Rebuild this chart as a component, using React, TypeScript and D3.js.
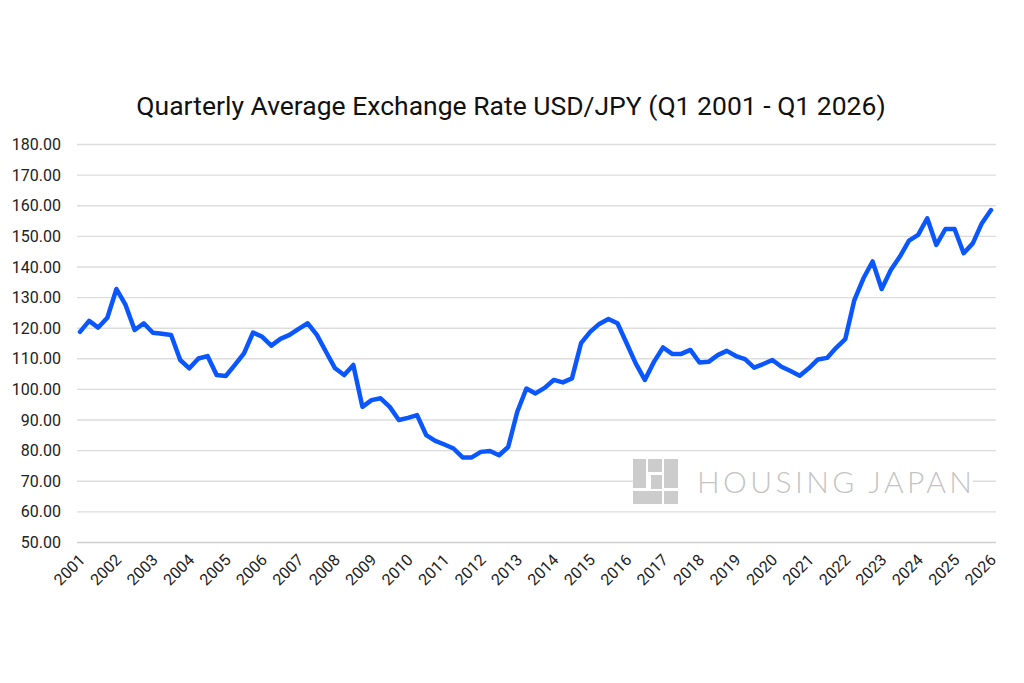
import { useEffect, useRef } from "react";
import * as d3 from "d3";

const W = 1024;
const H = 683;

const TITLE = "Quarterly Average Exchange Rate USD/JPY (Q1 2001 - Q1 2026)";

const YEARS = [
  "2001", "2002", "2003", "2004", "2005", "2006", "2007", "2008", "2009",
  "2010", "2011", "2012", "2013", "2014", "2015", "2016", "2017", "2018",
  "2019", "2020", "2021", "2022", "2023", "2024", "2025", "2026",
];

const Y_TICKS = [50, 60, 70, 80, 90, 100, 110, 120, 130, 140, 150, 160, 170, 180];

// quarterly averages, Q1 2001 .. Q1 2026
const RATES = [
  118.8, 122.4, 120.2, 123.4,
  132.8, 127.6, 119.4, 121.6,
  118.5, 118.2, 117.8, 109.6,
  106.9, 110.1, 110.9, 104.7,
  104.4, 108.0, 111.8, 118.6,
  117.2, 114.3, 116.5, 117.8,
  119.8, 121.6, 117.8, 112.3,
  106.9, 104.7, 108.0, 94.3,
  96.5, 97.1, 94.3, 90.0,
  90.7, 91.6, 85.1, 83.2,
  82.0, 80.7, 77.8, 77.8,
  79.6, 79.9, 78.5, 81.2,
  92.7, 100.3, 98.7, 100.5,
  103.1, 102.3, 103.6, 115.1,
  118.8, 121.4, 123.0, 121.6,
  115.1, 108.5, 103.1, 109.0,
  113.7, 111.6, 111.6, 112.9,
  108.8, 109.0, 111.2, 112.6,
  110.9, 109.9, 107.1, 108.3,
  109.6, 107.4, 106.0, 104.5,
  106.9, 109.8, 110.3, 113.6,
  116.4, 129.2, 136.3, 141.8,
  132.8, 139.0, 143.4, 148.6,
  150.5, 155.9, 147.2, 152.4,
  152.4, 144.5, 147.7, 154.3,
  158.6,
];

const App = () => {
  const svgRef = useRef(null);

  useEffect(() => {
    const svg = d3.select(svgRef.current);
    svg.selectAll("*").remove();

    const font = "Roboto, 'Noto Sans', sans-serif";

    const xScale = d3.scaleLinear().domain([0, RATES.length - 1]).range([80, 991]);
    const yScale = d3.scaleLinear().domain([50, 180]).range([542.5, 144.5]);

    svg.append("rect").attr("width", W).attr("height", H).attr("fill", "#fff");

    // title
    svg
      .append("text")
      .attr("x", 511)
      .attr("y", 115)
      .attr("text-anchor", "middle")
      .attr("font-family", font)
      .attr("font-size", 26.5)
      .attr("fill", "#111")
      .text(TITLE);

    // gridlines
    svg
      .append("g")
      .selectAll("line")
      .data(Y_TICKS)
      .join("line")
      .attr("x1", 77)
      .attr("x2", 996)
      .attr("y1", (d) => yScale(d))
      .attr("y2", (d) => yScale(d))
      .attr("stroke", (d) => (d === 50 ? "#cfcfcf" : "#dddddd"))
      .attr("stroke-width", 1.4);

    // y labels
    svg
      .append("g")
      .selectAll("text")
      .data(Y_TICKS)
      .join("text")
      .attr("x", 61)
      .attr("y", (d) => yScale(d))
      .attr("dy", "0.35em")
      .attr("text-anchor", "end")
      .attr("font-family", font)
      .attr("font-size", 16)
      .attr("fill", "#222")
      .text((d) => d.toFixed(2));

    // x labels, one per Q1
    svg
      .append("g")
      .selectAll("text")
      .data(YEARS)
      .join("text")
      .attr("transform", (d, i) => `translate(${xScale(i * 4) + 6},${561}) rotate(-45)`)
      .attr("text-anchor", "end")
      .attr("font-family", font)
      .attr("font-size", 16)
      .attr("fill", "#222")
      .text((d) => d);

    // watermark
    const wm = svg.append("g");
    wm.append("rect").attr("x", 633).attr("y", 458).attr("width", 340).attr("height", 47).attr("fill", "#fff");
    const blocks = [
      [633, 459, 13, 29],
      [648, 459, 14, 13],
      [651, 475, 11, 14],
      [633, 491, 29, 13],
      [664, 459, 14, 29],
      [664, 491, 14, 13],
    ];
    wm.selectAll("rect.blk")
      .data(blocks)
      .join("rect")
      .attr("class", "blk")
      .attr("x", (d) => d[0])
      .attr("y", (d) => d[1])
      .attr("width", (d) => d[2])
      .attr("height", (d) => d[3])
      .attr("fill", "#cccccc");
    wm.append("text")
      .attr("x", 697)
      .attr("y", 493)
      .attr("font-family", "Lato, 'Open Sans', sans-serif")
      .attr("font-weight", 300)
      .attr("font-size", 30)
      .attr("textLength", 275)
      .attr("lengthAdjust", "spacing")
      .attr("fill", "#c4c4c4")
      .text("HOUSING JAPAN");

    // the rate line
    const line = d3
      .line<number>()
      .x((d, i) => xScale(i))
      .y((d) => yScale(d));

    svg
      .append("path")
      .datum(RATES)
      .attr("d", line)
      .attr("fill", "none")
      .attr("stroke", "#0a57ff")
      .attr("stroke-width", 4.5)
      .attr("stroke-linejoin", "round")
      .attr("stroke-linecap", "round");
  }, []);

  return (
    <svg
      ref={svgRef}
      width={W}
      height={H}
      style={{ position: "absolute", left: 0, top: 0 }}
    ></svg>
  );
};

export default App;
